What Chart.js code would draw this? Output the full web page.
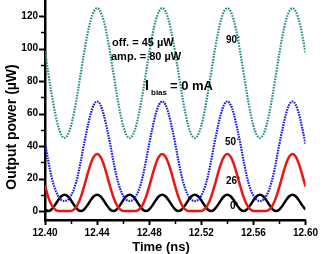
<!DOCTYPE html>
<html>
<head>
<meta charset="utf-8">
<script src="https://cdn.jsdelivr.net/npm/chart.js@4/dist/chart.umd.min.js"></script>
<style>
html,body{margin:0;padding:0;background:#fff;}
#wrap{width:325px;height:254px;position:relative;}
</style>
</head>
<body>
<div id="wrap"><canvas id="c" width="325" height="254"></canvas></div>
<script>
// ---- data ----
const timeNs = [
12.4,12.4025,12.405,12.4075,12.41,12.4125,12.415,12.4175,12.42,12.4225,
12.425,12.4275,12.43,12.4325,12.435,12.4375,12.44,12.4425,12.445,12.4475,
12.45,12.4525,12.455,12.4575,12.46,12.4625,12.465,12.4675,12.47,12.4725,
12.475,12.4775,12.48,12.4825,12.485,12.4875,12.49,12.4925,12.495,12.4975,
12.5,12.5025,12.505,12.5075,12.51,12.5125,12.515,12.5175,12.52,12.5225,
12.525,12.5275,12.53,12.5325,12.535,12.5375,12.54,12.5425,12.545,12.5475,
12.55,12.5525,12.555,12.5575,12.56,12.5625,12.565,12.5675,12.57,12.5725,
12.575,12.5775,12.58,12.5825,12.585,12.5875,12.59,12.5925,12.595,12.5975,
12.6];

const power90 = [
98.5,85,72.6,61.5,52.6,47.0,45,47.0,52.6,61.5,72.6,85,97.4,108.5,117.4,123.0,
125,123.0,117.4,108.5,97.4,85,72.6,61.5,52.6,47.0,45,47.0,52.6,61.5,72.6,85,97.4,108.5,117.4,123.0,
125,123.0,117.4,108.5,97.4,85,72.6,61.5,52.6,47.0,45,47.0,52.6,61.5,72.6,85,97.4,108.5,117.4,123.0,
125,123.0,117.4,108.5,97.4,85,72.6,61.5,52.6,47.0,45,47.0,52.6,61.5,72.6,85,97.4,108.5,117.4,123.0,
125,123.0,117.4,108.5,97.4];

const power50 = [
42.5,30.8,21.2,14.1,9.5,6.9,6.2,6.9,9.5,14.1,21.2,30.8,41.5,51.1,59.7,65.5,
67.5,65.5,59.7,51.1,41.5,30.8,21.2,14.1,9.5,6.9,6.2,6.9,9.5,14.1,21.2,30.8,41.5,51.1,59.7,65.5,
67.5,65.5,59.7,51.1,41.5,30.8,21.2,14.1,9.5,6.9,6.2,6.9,9.5,14.1,21.2,30.8,41.5,51.1,59.7,65.5,
67.5,65.5,59.7,51.1,41.5,30.8,21.2,14.1,9.5,6.9,6.2,6.9,9.5,14.1,21.2,30.8,41.5,51.1,59.7,65.5,
67.5,65.5,59.7,51.1,41.5];

const power26 = [
16.0,8.6,3.9,1.2,0.1,0,0.1,0,0.1,1.2,3.9,8.6,15.1,22.3,28.9,33.5,
35.1,33.5,28.9,22.3,15.1,8.6,3.9,1.2,0.1,0,0.1,0,0.1,1.2,3.9,8.6,15.1,22.3,28.9,33.5,
35.1,33.5,28.9,22.3,15.1,8.6,3.9,1.2,0.1,0,0.1,0,0.1,1.2,3.9,8.6,15.1,22.3,28.9,33.5,
35.1,33.5,28.9,22.3,15.1,8.6,3.9,1.2,0.1,0,0.1,0,0.1,1.2,3.9,8.6,15.1,22.3,28.9,33.5,
35.1,33.5,28.9,22.3,15.1];

const power0 = [
1.0,0,1.0,3.5,6.6,9.1,10,9.1,6.6,3.5,1.0,0,1.0,3.5,6.6,9.1,
10,9.1,6.6,3.5,1.0,0,1.0,3.5,6.6,9.1,10,9.1,6.6,3.5,1.0,0,1.0,3.5,6.6,9.1,
10,9.1,6.6,3.5,1.0,0,1.0,3.5,6.6,9.1,10,9.1,6.6,3.5,1.0,0,1.0,3.5,6.6,9.1,
10,9.1,6.6,3.5,1.0,0,1.0,3.5,6.6,9.1,10,9.1,6.6,3.5,1.0,0,1.0,3.5,6.6,9.1,
10,9.1,6.6,3.5,1.0];

const xTickValues = [12.40, 12.44, 12.48, 12.52, 12.56, 12.60];
const xMinorTicks = [12.42, 12.46, 12.50, 12.54, 12.58];
const yTickValues = [0, 20, 40, 60, 80, 100, 120];
const yMinorTicks = [10, 30, 50, 70, 90, 110];

const xTitle = 'Time (ns)';
const yTitle = 'Output power (\u00B5W)';

// ---- chart ----
const FONT = "'Liberation Sans', Arial, Helvetica, sans-serif";
function pts(ys){ return ys.map((y,i)=>({x: timeNs[i], y})); }

function degLabel(ctx, num, x, y){
  ctx.font = 'bold 10px ' + FONT;
  ctx.fillText(num, x, y);
  const w = ctx.measureText(num).width;
  ctx.font = 'bold 6px ' + FONT;
  ctx.fillText('\u00B0', x + w + 0.3, y - 2);
}

const decor = {
  id: 'decor',
  afterDraw(chart){
    const ctx = chart.ctx;
    const xs = chart.scales.x, ys = chart.scales.y;
    const area = chart.chartArea;
    ctx.save();
    ctx.strokeStyle = '#000';
    yTickValues.forEach(v=>{
      const p = Math.round(ys.getPixelForValue(v))+0.5;
      ctx.lineWidth = 2; ctx.beginPath(); ctx.moveTo(area.left-6,p); ctx.lineTo(area.left,p); ctx.stroke();
    });
    yMinorTicks.forEach(v=>{
      const p = Math.round(ys.getPixelForValue(v))+0.5;
      ctx.lineWidth = 1.5; ctx.beginPath(); ctx.moveTo(area.left-4,p); ctx.lineTo(area.left,p); ctx.stroke();
    });
    xTickValues.forEach(v=>{
      const p = Math.round(xs.getPixelForValue(v))+0.5;
      ctx.lineWidth = 2; ctx.beginPath(); ctx.moveTo(p,area.bottom); ctx.lineTo(p,area.bottom+5); ctx.stroke();
    });
    xMinorTicks.forEach(v=>{
      const p = Math.round(xs.getPixelForValue(v))+0.5;
      ctx.lineWidth = 1.5; ctx.beginPath(); ctx.moveTo(p,area.bottom); ctx.lineTo(p,area.bottom+4); ctx.stroke();
    });
    ctx.fillStyle = '#000';
    ctx.textAlign = 'center'; ctx.textBaseline = 'middle';
    ctx.font = 'bold 13px ' + FONT;
    ctx.fillText(xTitle, 161, 247);
    ctx.save();
    ctx.translate(12, 127);
    ctx.rotate(-Math.PI/2);
    ctx.font = 'bold 14px ' + FONT;
    ctx.fillText(yTitle, 0, 0);
    ctx.restore();
    ctx.textAlign = 'left';
    ctx.font = 'bold 11px ' + FONT;
    ctx.fillText('off. = 45 \u00B5W', 112, 43);
    ctx.fillText('amp. = 80 \u00B5W', 111, 57);
    ctx.font = 'bold 14px ' + FONT;
    ctx.fillText('I', 145, 86);
    ctx.font = 'bold 8px ' + FONT;
    ctx.fillText('bias', 151, 93);
    ctx.font = 'bold 13px ' + FONT;
    ctx.fillText('= 0 mA', 170, 86);
    degLabel(ctx, '90', 226, 40);
    degLabel(ctx, '50', 225, 142);
    degLabel(ctx, '26', 226, 181);
    degLabel(ctx, '0', 230, 206);
    ctx.restore();
  }
};

new Chart(document.getElementById('c'), {
  type: 'line',
  data: {
    datasets: [
      {label:'90°', data: pts(power90), borderColor:'#1f8f87', borderWidth:2.2, borderDash:[1.6,1.2], pointRadius:0, cubicInterpolationMode:'monotone'},
      {label:'50°', data: pts(power50), borderColor:'#1a1ae0', borderWidth:2.2, borderDash:[1.6,1.0], pointRadius:0, cubicInterpolationMode:'monotone'},
      {label:'26°', data: pts(power26), borderColor:'#ee1414', borderWidth:2.5, pointRadius:0, cubicInterpolationMode:'monotone'},
      {label:'0°', data: pts(power0), borderColor:'#000000', borderWidth:2.5, pointRadius:0, cubicInterpolationMode:'monotone'}
    ]
  },
  options: {
    responsive: false,
    animation: false,
    devicePixelRatio: 1,
    layout: {padding: 0},
    plugins: {legend:{display:false}, tooltip:{enabled:false}},
    scales: {
      x: {
        type: 'linear', min: 12.40, max: 12.60,
        afterBuildTicks: s => { s.ticks = xTickValues.map(v=>({value:v})); },
        afterFit: s => { s.height = 34; },
        grid: {display:false, drawTicks:false},
        border: {display:true, color:'#000', width:2.5},
        ticks: {padding: 7, color:'#000', font:{family:FONT, size:10, weight:'bold'}, maxRotation:0,
                callback: v => Number(v).toFixed(2)}
      },
      y: {
        min: -5.5, max: 130,
        afterBuildTicks: s => { s.ticks = yTickValues.map(v=>({value:v})); },
        afterFit: s => { s.width = 45; s.paddingTop = 0; s.paddingBottom = 0; },
        grid: {display:false, drawTicks:false},
        border: {display:true, color:'#000', width:2.5},
        ticks: {padding: 7, color:'#000', font:{family:FONT, size:10, weight:'bold'}}
      }
    }
  },
  plugins: [decor]
});
</script>
</body>
</html>
